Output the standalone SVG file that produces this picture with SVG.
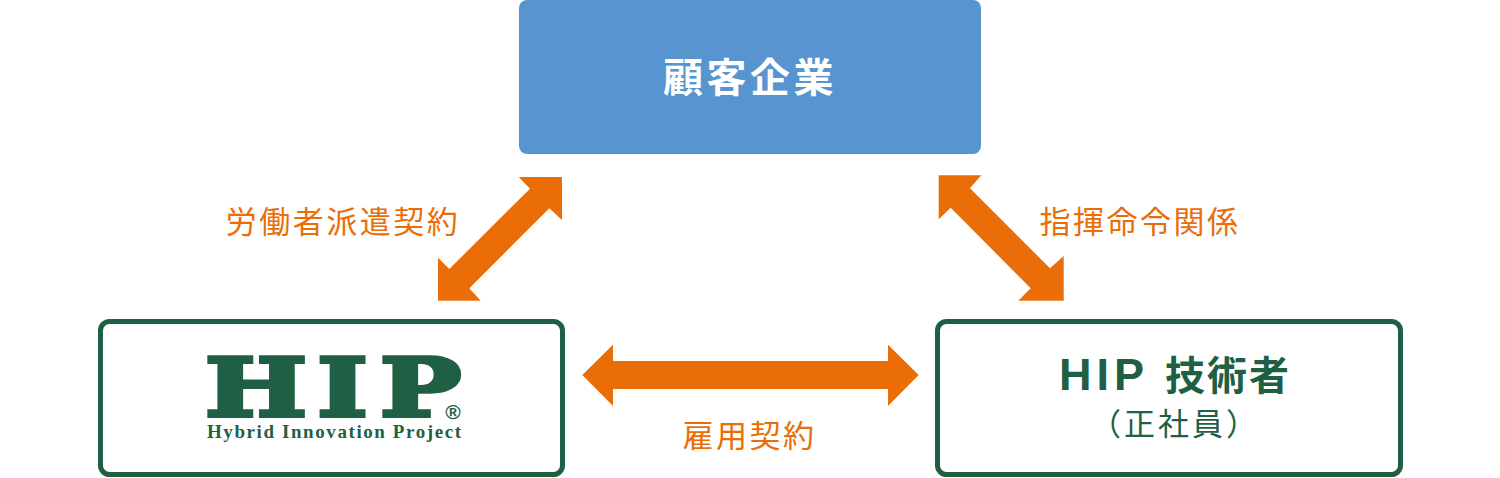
<svg xmlns="http://www.w3.org/2000/svg" width="1500" height="478" viewBox="0 0 1500 478">
<style>
text{font-family:"Noto Sans CJK JP","Noto Sans",sans-serif}
.box{fill:#fff;stroke:#1f5f43;stroke-width:5}
.arrow{fill:#eb6d07}
.lbl{fill:#eb6d07;font-size:31px;letter-spacing:2.500px;text-anchor:middle}
.g{fill:#1f5f43}
</style>
<rect width="1500" height="478" fill="#fff"/>
<g id="customer"><rect x="519" y="0" width="462" height="154" rx="8" fill="#5895d0"/>
<text x="750" y="92" text-anchor="middle" fill="#fff" font-size="40" font-weight="700" letter-spacing="3.500">顧客企業</text></g>
<g id="hip"><rect class="box" x="100.500" y="321.500" width="462" height="153" rx="9"/>
<text class="g" transform="translate(205,416) scale(1.08,.805)" x="0 104 162" y="0" font-size="100" font-weight="700" style="font-family:'DejaVu Serif',serif" stroke="#1f5f43" stroke-width="5">HIP</text>
<text class="g" x="453" y="419" text-anchor="middle" font-size="21" font-weight="700" style="font-family:'Liberation Sans',sans-serif">®</text>
<text class="g" x="207" y="438" font-size="19" font-weight="700" textLength="254" style="font-family:'Liberation Serif',serif">Hybrid Innovation Project</text></g>
<g id="engineer"><rect class="box" x="937.500" y="321.500" width="463" height="153" rx="9"/>
<text class="g" x="1059" y="390" font-size="40" font-weight="700" letter-spacing="2"><tspan font-size="45" letter-spacing="5" style="font-family:'Liberation Sans',sans-serif">HIP</tspan><tspan x="1165">技術者</tspan></text>
<text class="g" x="1175" y="435" text-anchor="middle" font-size="31" letter-spacing="3">（正社員）</text></g>
<g id="connectors">
<polygon class="arrow" points="518.700,177 562,177 562,220 549.300,208.300 469.300,288.300 480.700,300.700 438,300.700 438,257.700 449.300,269 530,188.700"/>
<polygon class="arrow" points="938.700,175.300 981.300,175.300 970,188.300 1050,268.300 1063.700,256 1063.700,300.700 1018.300,300.700 1030.700,288.300 950.700,207.700 938.700,219.300"/>
<polygon class="arrow" points="582.300,375 613,344.700 613,361 888,361 888,344.700 918.700,375 888,406 888,389 613,389 613,406"/>
</g>
<g id="labels">
<text class="lbl" x="343" y="233">労働者派遣契約</text>
<text class="lbl" x="1140" y="233">指揮命令関係</text>
<text class="lbl" x="749.500" y="447">雇用契約</text>
</g>
</svg>
